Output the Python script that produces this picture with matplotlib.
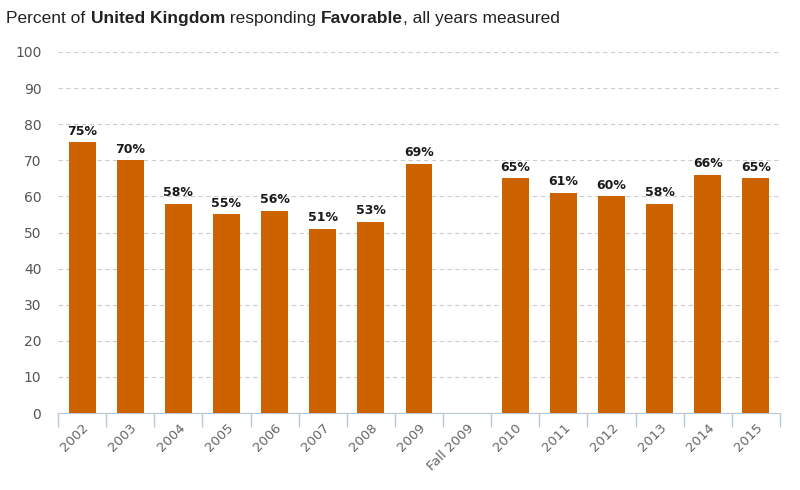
import matplotlib
matplotlib.use("Agg")
from matplotlib import pyplot as plt
import numpy as np

years = ["2002", "2003", "2004", "2005", "2006", "2007", "2008", "2009",
         "Fall 2009", "2010", "2011", "2012", "2013", "2014", "2015"]
favorable = [75, 70, 58, 55, 56, 51, 53, 69, np.nan, 65, 61, 60, 58, 66, 65]
yticks = list(range(0, 101, 10))

plt.rcParams['font.family'] = ['Liberation Sans', 'DejaVu Sans']

fig = plt.figure(figsize=(8, 4.9), dpi=100)
ax = fig.add_axes([0.0725, 0.157, 0.9025, 0.737])

x = np.arange(len(years))
vals = np.array(favorable, dtype=float)
ax.bar(x, np.nan_to_num(vals), width=0.56, color="#cc6200", zorder=3)

# value labels above bars
for xi, v in zip(x, vals):
    if not np.isnan(v):
        ax.text(xi, v + 1.3, "%d%%" % v, ha="center", va="bottom",
                fontsize=9, fontweight="bold", color="#1a1a1a",
                family=["DejaVu Sans"])

ax.set_xlim(-0.5, len(years) - 0.5)
ax.set_ylim(0, 100)
ax.set_yticks(yticks)
ax.set_yticklabels([str(t) for t in yticks], fontsize=10, color="#555555",
                   family=["DejaVu Sans"])
ax.yaxis.grid(True, linestyle=(0, (4, 3)), color="#cccccc", linewidth=0.8, zorder=0)
ax.tick_params(axis="y", length=0, pad=12)

ax.set_xticks(x)
ax.set_xticklabels(years, rotation=45, ha="right", rotation_mode="anchor",
                   fontsize=9.5, color="#666666", family=["DejaVu Sans"])
ax.tick_params(axis="x", length=0, pad=6)
ax.set_xticks(np.arange(-0.5, len(years), 1), minor=True)
ax.tick_params(axis="x", which="minor", length=10, color="#b8c8d8", width=1)

for s in ["top", "right", "left"]:
    ax.spines[s].set_visible(False)
ax.spines["bottom"].set_color("#b8c8d8")

# title with mixed weights
fig.canvas.draw()
r = fig.canvas.get_renderer()
parts = [("Percent of ", "normal"), ("United Kingdom", "bold"),
         (" responding ", "normal"), ("Favorable", "bold"),
         (", all years measured", "normal")]
xpos = 0.008
for s, w in parts:
    tt = fig.text(xpos, 0.963, s, fontsize=12.5, fontweight=w, color="#222222", va="center")
    bb = tt.get_window_extent(renderer=r)
    xpos += bb.width / fig.bbox.width

fig.savefig("out.png", dpi=100)
